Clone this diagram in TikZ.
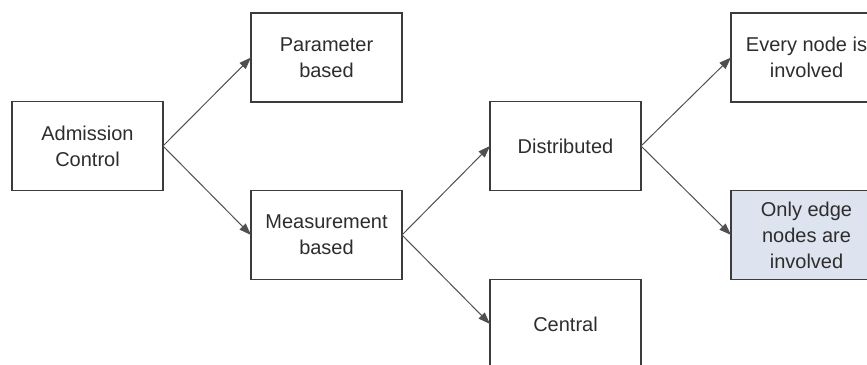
\documentclass[tikz,border=0pt]{standalone}
\usepackage{fontspec}
\setmainfont{Liberation Sans}
\usetikzlibrary{arrows.meta,
                positioning}
\definecolor{mgray}{RGB}{60,60,60}
\definecolor{mtext}{RGB}{45,45,45}
\definecolor{mfill}{RGB}{221,227,239}
\tikzset{
    block/.style = {rectangle, draw=mgray, line width=1.4pt, text=mtext,
                   minimum width=151pt, minimum height=89pt, inner sep=3pt,
                   outer sep=0pt, align=center, font=\fontsize{20}{26}\selectfont},
    line/.style = {draw=mgray!90, line width=1pt,
                   -{Triangle[length=12pt,width=8.5pt]}}
    }

\begin{document}
\begin{tikzpicture}[x=1pt,y=-1pt]
\useasboundingbox (0,0) rectangle (867,364);
\clip (0,0) rectangle (867,364);
\node [block] (adm) at (87.5,146) {Admission\\Control};
\node [block, right=88pt of adm, yshift=88.5pt]  (param) {Parameter\\based};
\node [block, right=88pt of adm, yshift=-89pt]   (meas)  {Measurement\\based};
\node [block, right=88pt of meas, yshift=89pt]   (dist)  {Distributed};
\node [block, right=88pt of meas, yshift=-89pt]  (cent)  {Central};
\node [block, right=90pt of dist, yshift=88.5pt] (every) {Every node is\\involved};
\node [block, right=90pt of dist, yshift=-89pt, fill=mfill] (edge) {Only edge\\nodes are\\involved};% <-- shaded
% connectors
\path [line] (adm.east) -- (param.west);
\path [line] (adm.east) -- (meas.west);
\path [line] (meas.east) -- (dist.west);
\path [line] (meas.east) -- (cent.west);
\path [line] (dist.east) -- (every.west);
\path [line] (dist.east) -- (edge.west);
\end{tikzpicture}
\end{document}
